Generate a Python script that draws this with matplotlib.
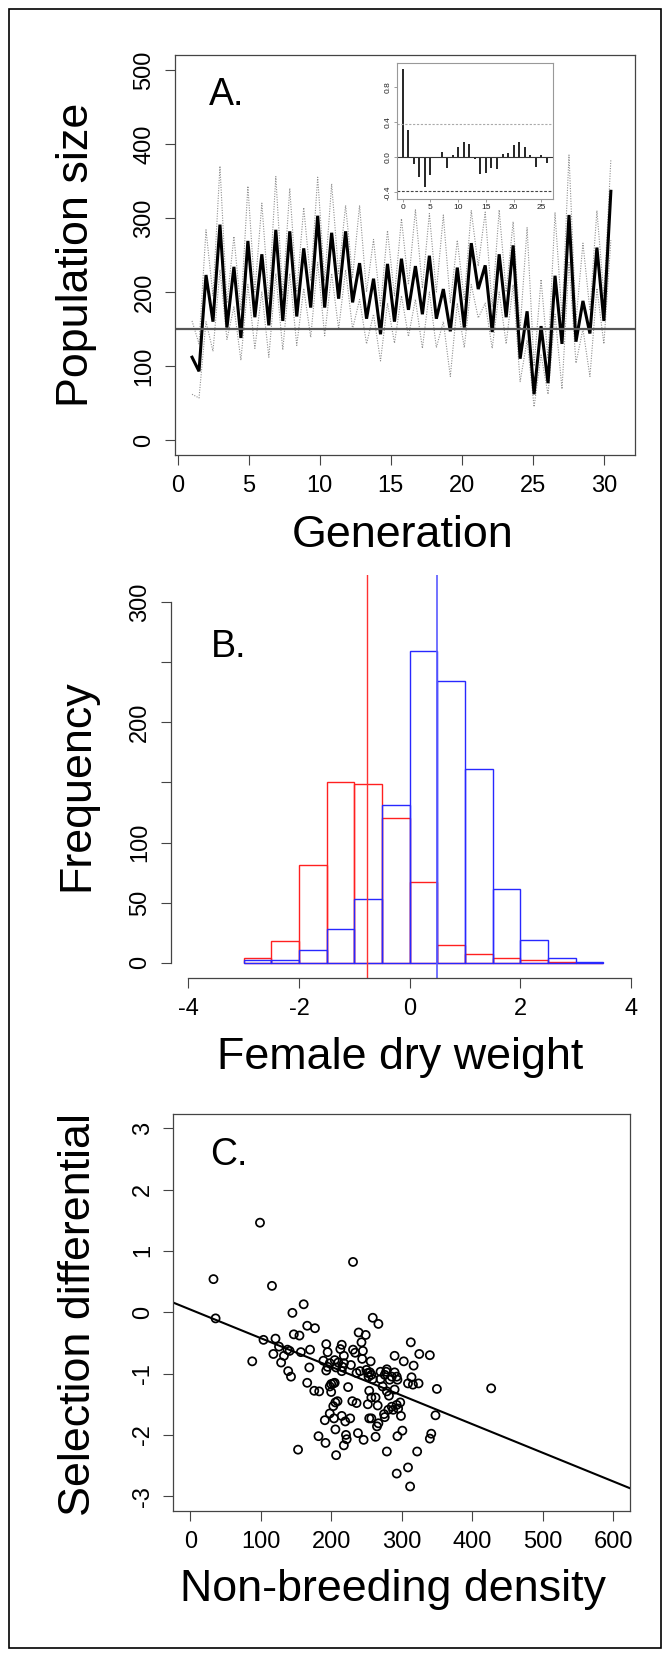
import numpy as np
import matplotlib
matplotlib.use('Agg')
import matplotlib.pyplot as plt
from matplotlib.patches import Rectangle

plt.rcParams['font.family'] = ['Liberation Sans', 'DejaVu Sans']

# ---------------- data ----------------
# Panel A: population size (census every half generation)
generation = np.linspace(1, 30.5, 61)
pop_mean = [112, 93, 223, 160, 291, 152, 234, 138, 269, 166, 251, 155, 284, 161,
            282, 167, 259, 179, 303, 179, 280, 191, 282, 186, 239, 164, 218, 143,
            238, 160, 245, 176, 235, 170, 249, 164, 204, 147, 233, 152, 266, 204,
            236, 146, 251, 166, 263, 110, 174, 62, 154, 77, 222, 130, 304, 133,
            188, 144, 260, 161, 336]
pop_upper = [161, 130, 284, 195, 370, 185, 275, 175, 343, 200, 320, 190, 356, 195,
             340, 200, 314, 215, 355, 215, 346, 225, 317, 220, 317, 200, 271, 180,
             283, 195, 299, 210, 311, 205, 306, 200, 304, 185, 270, 190, 310, 235,
             308, 180, 311, 200, 295, 150, 287, 100, 217, 110, 307, 165, 385, 160,
             266, 175, 310, 195, 379]
pop_lower = [62, 57, 160, 120, 230, 136, 180, 108, 210, 124, 200, 112, 225, 122,
             225, 128, 205, 139, 240, 141, 225, 150, 230, 150, 190, 130, 170, 107,
             185, 131, 195, 140, 190, 124, 200, 125, 160, 86, 185, 125, 210, 165,
             185, 124, 200, 130, 210, 79, 135, 45, 115, 62, 170, 69, 240, 104,
             150, 86, 205, 130, 270]
threshold = 150

# inset: autocorrelation
acf_lag = list(range(27))
acf_val = [1.0, 0.31, -0.08, -0.23, -0.335, -0.20, -0.01, 0.057, -0.118, 0.027,
           0.114, 0.17, 0.152, -0.02, -0.194, -0.183, -0.118, -0.133, 0.034, 0.046,
           0.141, 0.17, 0.114, 0.027, -0.107, 0.027, -0.069]
acf_ci = 0.38

# Panel B: histograms of female dry weight
bin_left = [-3.0, -2.5, -2.0, -1.5, -1.0, -0.5, 0.0, 0.5, 1.0, 1.5, 2.0, 2.5, 3.0]
freq_red = [4, 18, 81, 150, 149, 120, 67, 15, 7, 4, 2, 1, 0]
freq_blue = [2, 2, 11, 28, 53, 131, 259, 234, 161, 61, 19, 4, 1]
mean_red = -0.77
mean_blue = 0.49

# Panel C: selection differential vs non-breeding density
density = [33, 36, 99, 88, 104, 116, 121, 118, 126, 129,
           133, 138, 141, 139, 143, 145, 147, 155, 157, 161,
           166, 177, 170, 169, 166, 176, 183, 182, 153, 192,
           191, 193, 195, 189, 195, 193, 198, 198, 200, 203,
           205, 200, 198, 203, 206, 209, 204, 206, 207, 205,
           210, 207, 213, 215, 218, 215, 216, 218, 215, 220,
           227, 221, 222, 218, 224, 228, 231, 231, 230, 236,
           238, 246, 234, 239, 243, 249, 245, 244, 236, 241,
           250, 252, 253, 256, 259, 267, 255, 257, 259, 254,
           252, 254, 257, 257, 263, 266, 265, 267, 263, 270,
           270, 273, 278, 279, 276, 279, 282, 283, 286, 276,
           275, 281, 286, 288, 279, 290, 290, 293, 294, 290,
           293, 298, 295, 299, 301, 294, 293, 309, 312, 303,
           313, 317, 314, 316, 309, 324, 325, 340, 350, 348,
           342, 340, 322, 427]
sel_diff = [0.54, -0.10, 1.46, -0.80, -0.45, 0.43, -0.43, -0.68, -0.56, -0.82,
            -0.71, -0.61, -0.63, -0.96, -1.05, -0.01, -0.36, -0.38, -0.65, 0.13,
            -0.22, -0.26, -0.61, -0.90, -1.15, -1.28, -1.29, -2.02, -2.24, -2.13,
            -1.76, -0.52, -0.65, -0.79, -0.89, -0.95, -0.83, -1.21, -1.17, -1.16,
            -1.15, -1.30, -1.65, -1.53, -1.47, -1.45, -1.73, -1.91, -2.33, -0.78,
            -0.82, -0.90, -0.60, -0.53, -0.71, -0.96, -0.89, -0.83, -1.69, -1.78,
            -1.73, -2.00, -2.07, -2.17, -1.22, -0.86, 0.82, -0.61, -1.45, -1.48,
            -1.97, -2.08, -0.66, -0.33, -0.49, -0.37, -0.63, -0.76, -0.99, -0.96,
            -0.94, -0.99, -1.05, -0.80, -0.09, -0.19, -0.98, -1.02, -1.09, -1.28,
            -1.50, -1.73, -1.73, -1.39, -1.39, -1.52, -1.86, -1.81, -2.03, -0.97,
            -1.09, -1.21, -0.97, -0.93, -1.02, -1.29, -1.36, -1.10, -1.05, -1.71,
            -1.66, -1.59, -1.54, -1.59, -2.27, -0.71, -0.98, -1.05, -1.10, -1.26,
            -1.51, -1.47, -1.57, -1.69, -1.93, -2.02, -2.63, -2.53, -2.84, -0.80,
            -0.49, -0.87, -1.06, -1.18, -1.16, -1.16, -0.68, -0.70, -1.25, -1.68,
            -1.98, -2.06, -2.27, -1.24]
fit_intercept = 0.045
fit_slope = -0.00467

# ---------------- layout helpers ----------------
W, H = 670, 1655
fig = plt.figure(figsize=(W / 100, H / 100), dpi=100)


def rect(l, t, r, b):
    return [l / W, 1 - b / H, (r - l) / W, (b - t) / H]


def fx(x):
    return x / W


def fy(y):
    return 1 - y / H


TICK_FS = 17
LAB_FS = 32.3
LET_FS = 27
AX_COL = '#444444'


def style(ax, xticks, xlabels, yticks, ylabels):
    ax.set_xticks(xticks)
    ax.set_xticklabels(xlabels)
    ax.set_yticks(yticks)
    ax.set_yticklabels(ylabels, rotation=90, va='center')
    ax.tick_params(axis='both', direction='out', length=7.5, width=0.8,
                   color=AX_COL, labelsize=TICK_FS)
    ax.tick_params(axis='x', pad=7)
    ax.tick_params(axis='y', pad=6.5)
    for s in ax.spines.values():
        s.set_color(AX_COL)
        s.set_linewidth(0.9)


def fmt(v):
    return ('%g' % v).replace('\u2212', '-')


# ---------------- Panel A ----------------
axA = fig.add_axes(rect(175, 55, 635, 455))
axA.plot(generation, pop_upper, color='#8f8f8f', lw=0.8, ls=(0, (1, 1.3)))
axA.plot(generation, pop_lower, color='#8f8f8f', lw=0.8, ls=(0, (1, 1.3)))
axA.plot(generation, pop_mean, color='black', lw=2.2, solid_joinstyle='miter')
axA.axhline(threshold, color='#555555', lw=1.6)
axA.set_xlim(-0.2, 32.2)
axA.set_ylim(-20, 520)
xt = [0, 5, 10, 15, 20, 25, 30]
yt = [0, 100, 200, 300, 400, 500]
style(axA, xt, [fmt(v) for v in xt], yt, [fmt(v) for v in yt])

# inset ACF
axI = fig.add_axes(rect(397, 63.3, 552.7, 199.3))
axI.vlines(acf_lag, 0, acf_val, color='black', lw=1.2)
axI.axhline(0, color='#333333', lw=0.8)
axI.axhline(acf_ci, color='#aaaaaa', lw=0.8, ls=(0, (2, 1.5)))
axI.axhline(-acf_ci, color='#444444', lw=0.8, ls=(0, (2.5, 1.5)))
axI.set_xlim(-1.04, 27.04)
axI.set_ylim(-0.48, 1.07)
axI.set_xticks([0, 5, 10, 15, 20, 25])
axI.set_xticklabels(['0', '5', '10', '15', '20', '25'])
axI.set_yticks([-0.4, 0.0, 0.4, 0.8])
axI.set_yticklabels(['-0.4', '0.0', '0.4', '0.8'], rotation=90, va='center')
axI.tick_params(axis='both', direction='out', length=2.5, width=0.5,
                color='#777777', labelsize=6, pad=1.2, labelcolor='#222222')
for s in axI.spines.values():
    s.set_color('#999999')
    s.set_linewidth(0.8)

fig.text(fx(88), fy(255), 'Population size', rotation=90, rotation_mode='anchor',
         ha='center', va='baseline', fontsize=LAB_FS)
fig.text(fx(403), fy(547), 'Generation', ha='center', va='baseline', fontsize=LAB_FS)
fig.text(fx(209), fy(105), 'A.', ha='left', va='baseline', fontsize=LET_FS)

# ---------------- Panel B ----------------
axB = fig.add_axes(rect(170.7, 575, 648.6, 977.7))
axB.bar(bin_left, freq_red, width=0.5, align='edge', fill=False,
        edgecolor='#ff2020', lw=1.0)
axB.bar(bin_left, freq_blue, width=0.5, align='edge', fill=False,
        edgecolor='#2828ff', lw=1.0)
axB.axvline(mean_red, color='#ff3030', lw=1.0)
axB.axvline(mean_blue, color='#5a5aff', lw=1.2)
axB.set_xlim(-4.32, 4.32)
axB.set_ylim(-12.4, 322.4)
xtB = [-4, -2, 0, 2, 4]
ytB = [0, 50, 100, 150, 200, 250, 300]
style(axB, xtB, [fmt(v) for v in xtB], ytB, ['0', '50', '100', '', '200', '', '300'])
axB.spines['top'].set_visible(False)
axB.spines['right'].set_visible(False)
axB.spines['left'].set_bounds(0, 300)
axB.spines['bottom'].set_bounds(-4, 4)

fig.text(fx(88), fy(785), 'Frequency', rotation=90, rotation_mode='anchor',
         ha='center', va='baseline', fontsize=LAB_FS)
fig.text(fx(400), fy(1069), 'Female dry weight', ha='center', va='baseline',
         fontsize=LAB_FS)
fig.text(fx(210.5), fy(657), 'B.', ha='left', va='baseline', fontsize=LET_FS)

# ---------------- Panel C ----------------
axC = fig.add_axes(rect(173.3, 1113.5, 630, 1511))
axC.scatter(density, sel_diff, s=34, facecolors='none', edgecolors='black',
            linewidths=1.25)
axC.axline((0, fit_intercept), slope=fit_slope, color='black', lw=1.5)
axC.set_xlim(-24, 624)
axC.set_ylim(-3.24, 3.24)
xtC = [0, 100, 200, 300, 400, 500, 600]
ytC = [-3, -2, -1, 0, 1, 2, 3]
style(axC, xtC, [fmt(v) for v in xtC], ytC, [fmt(v) for v in ytC])

fig.text(fx(90), fy(1314), 'Selection differential', rotation=90,
         rotation_mode='anchor', ha='center', va='baseline', fontsize=LAB_FS)
fig.text(fx(393), fy(1601), 'Non-breeding density', ha='center', va='baseline',
         fontsize=LAB_FS)
fig.text(fx(210), fy(1165), 'C.', ha='left', va='baseline', fontsize=LET_FS)

# figure border
fig.patches.append(Rectangle((fx(9), fy(1648)), (661 - 9) / W, (1648 - 9) / H,
                             transform=fig.transFigure, fill=False,
                             ec='black', lw=1.2))

fig.savefig('out.png', dpi=100)
